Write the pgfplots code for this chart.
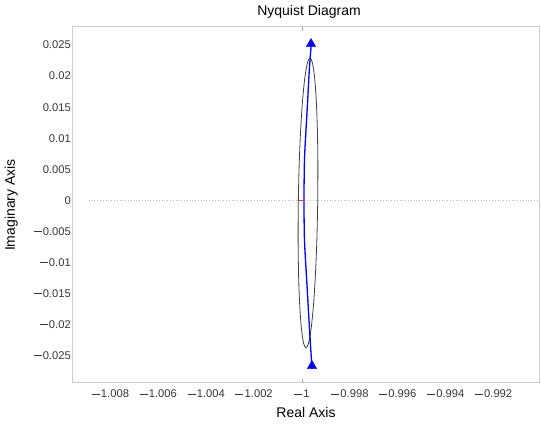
\documentclass[border=0pt]{standalone}
\usepackage{pgfplots}
\pgfplotsset{compat=1.18}
\usepackage{fontspec}
\setmainfont{Liberation Sans}
\definecolor{framegray}{RGB}{205,205,205}
\definecolor{ticktext}{RGB}{55,55,55}
\definecolor{nyqblue}{RGB}{0,0,255}
% a long minus sign as used in the tick labels
\newcommand\mn{\makebox[9.2pt][l]{\rule[3.6pt]{8pt}{0.75pt}}}

\begin{document}
\begin{tikzpicture}
\begin{axis}[
  name=ax,
  scale only axis,
  width=466pt, height=356pt,
  xmin=-1.009562, xmax=-0.990104,
  ymin=-0.029341, ymax=0.027894,
  scaled x ticks=false, scaled y ticks=false,
  axis line style={framegray, line width=1pt},
  major tick length=0pt,
  xtick={-1.008,-1.006,-1.004,-1.002,-1,-0.998,-0.996,-0.994,-0.992},
  xticklabels={\mn1.008,\mn1.006,\mn1.004,\mn1.002,\mn1,\mn0.998,\mn0.996,\mn0.994,\mn0.992},
  ytick={-0.025,-0.02,-0.015,-0.01,-0.005,0,0.005,0.01,0.015,0.02,0.025},
  yticklabels={\mn0.025,\mn0.02,\mn0.015,\mn0.01,\mn0.005,0,0.005,0.01,0.015,0.02,0.025},
  extra x ticks={-1},
  extra x tick labels={},
  extra tick style={major tick length=4pt, tick style={gray!70, line width=0.6pt}},
  tick label style={font=\fontsize{11.2}{13}\selectfont, text=ticktext, inner sep=0pt},
  xticklabel style={anchor=base, yshift=-15pt},
  yticklabel style={anchor=east, xshift=-2pt},
  title={Nyquist Diagram},
  title style={font=\fontsize{14}{16}\selectfont, at={(axis description cs:0.5,1)}, anchor=base, yshift=5pt, xshift=3pt, inner sep=0pt},
  xlabel={Real Axis},
  xlabel style={font=\fontsize{14}{16}\selectfont, at={(axis description cs:0.5,0)}, anchor=base, yshift=-35pt, inner sep=0pt},
  ylabel={Imaginary Axis},
  ylabel style={font=\fontsize{14}{16}\selectfont, at={([xshift=-58pt]axis description cs:0,0.5)}, anchor=base, rotate=0, inner sep=0pt},
  clip=true,
]
% real-axis reference line
\addplot[gray!55, dotted, line width=0.8pt] coordinates {(-1.0089,0) (-0.9901,0)};

% Nyquist contour for negative frequencies (closed loop around -1)
\addplot[black!75, line width=0.8pt, smooth] coordinates {
  (-0.999344,-0.000402) (-0.999337,0.005631) (-0.999357,0.011254) (-0.999404,0.016082)
  (-0.999475,0.019787) (-0.999564,0.022115) (-0.999666,0.022910) (-0.999774,0.022115)
  (-0.999880,0.019787) (-0.999977,0.016082) (-1.000058,0.011254) (-1.000119,0.005631)
  (-1.000154,-0.000402) (-1.000162,-0.006435) (-1.000142,-0.012058) (-1.000095,-0.016886)
  (-1.000024,-0.020591) (-0.999935,-0.022919) (-0.999833,-0.023714) (-0.999725,-0.022919)
  (-0.999619,-0.020591) (-0.999522,-0.016886) (-0.999441,-0.012058) (-0.999380,-0.006435)
  (-0.999344,-0.000402)
};

% Nyquist contour for positive frequencies
\addplot[nyqblue, line width=1.3pt, smooth] coordinates {
  (-0.999582,-0.027090) (-0.999645,-0.023231) (-0.999708,-0.019212) (-0.999804,-0.012781)
  (-0.999896,-0.006350) (-0.999916,0.000080) (-0.999896,0.006511) (-0.999833,0.011334)
  (-0.999762,0.016157) (-0.999695,0.020980) (-0.999624,0.024678) (-0.999624,0.025482)
};

% direction arrows
\addplot[only marks, mark=triangle*, mark size=5.5pt, nyqblue,
  mark options={draw=nyqblue, fill=nyqblue}] coordinates {
  (-0.999624,0.025160) (-0.999582,-0.026607)
};

% critical point
\addplot[only marks, mark=-, mark size=3pt, red!80, mark options={line width=1pt}] coordinates {(-1,0)};
\end{axis}
\pgfresetboundingbox
\path (ax.south west) ++(-73pt,-41pt) rectangle ([shift={(2pt,27pt)}]ax.north east);
\end{tikzpicture}
\end{document}
